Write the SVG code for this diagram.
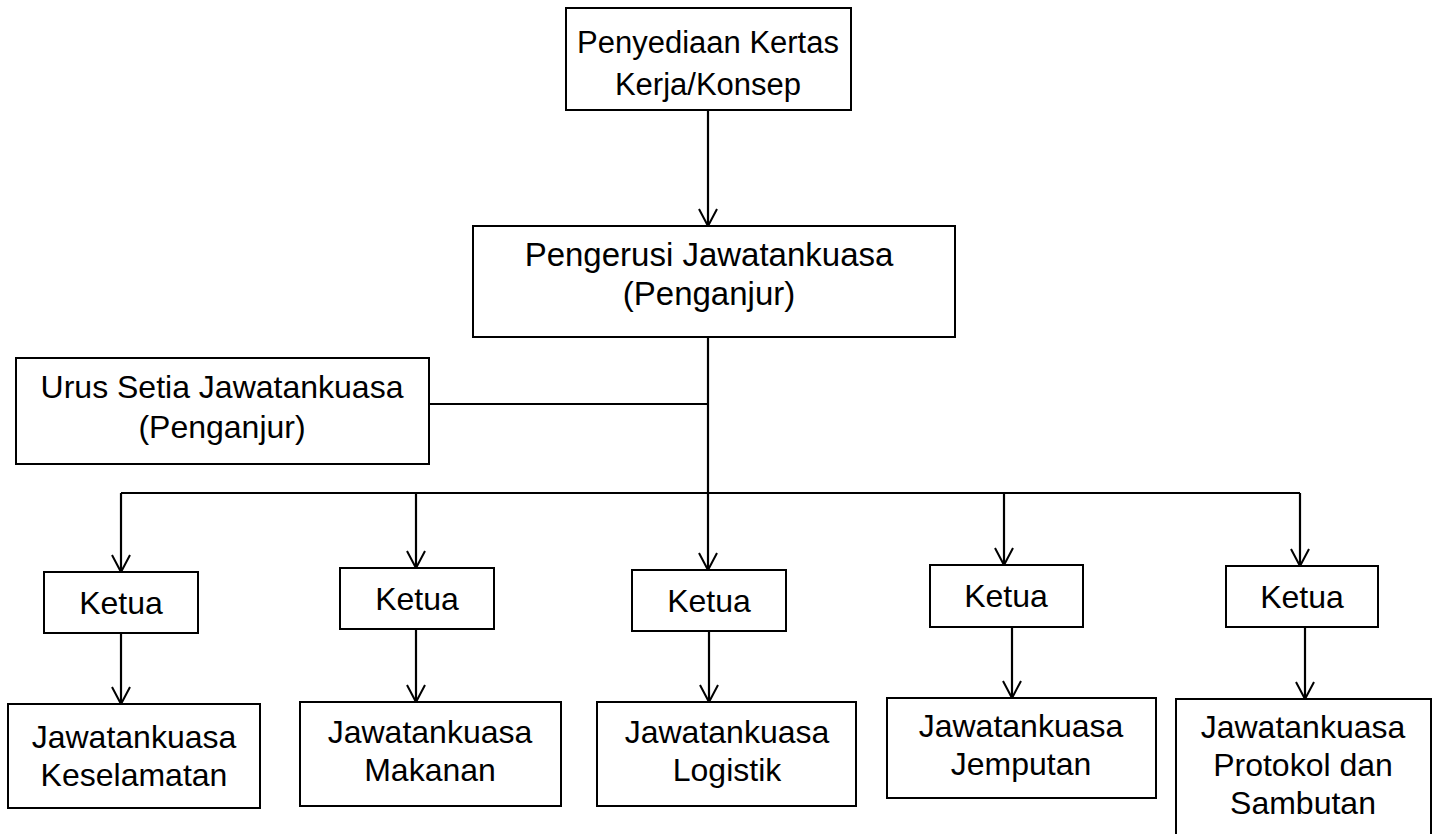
<svg xmlns="http://www.w3.org/2000/svg" width="1439" height="834" viewBox="0 0 1439 834">
<style>
.box{fill:#fff;stroke:#000;stroke-width:2}
.t{font-family:"Liberation Sans",Arial,sans-serif;font-size:32px;fill:#000;text-anchor:middle}
.c{fill:none;stroke:#000;stroke-width:2.2}
</style>
<defs>
<marker id="ah" markerUnits="userSpaceOnUse" markerWidth="22" markerHeight="22" refX="18" refY="10" orient="auto">
<path d="M1,1 L18,10 L1,19" fill="none" stroke="#000" stroke-width="2"/>
</marker>
</defs>
<rect width="1439" height="834" fill="#fff"/>
<g id="connectors">
<line class="c" x1="708" y1="110" x2="708" y2="226" marker-end="url(#ah)"/>
<line class="c" x1="708" y1="337" x2="708" y2="570" marker-end="url(#ah)"/>
<line class="c" x1="429" y1="404" x2="708" y2="404"/>
<line class="c" x1="121" y1="493" x2="1300" y2="493"/>
<line class="c" x1="121" y1="493" x2="121" y2="572" marker-end="url(#ah)"/>
<line class="c" x1="416" y1="493" x2="416" y2="568" marker-end="url(#ah)"/>
<line class="c" x1="1004" y1="493" x2="1004" y2="565" marker-end="url(#ah)"/>
<line class="c" x1="1300" y1="493" x2="1300" y2="566" marker-end="url(#ah)"/>
<line class="c" x1="121" y1="633" x2="121" y2="704" marker-end="url(#ah)"/>
<line class="c" x1="416" y1="629" x2="416" y2="702" marker-end="url(#ah)"/>
<line class="c" x1="709" y1="631" x2="709" y2="702" marker-end="url(#ah)"/>
<line class="c" x1="1012" y1="627" x2="1012" y2="698" marker-end="url(#ah)"/>
<line class="c" x1="1305" y1="627" x2="1305" y2="699" marker-end="url(#ah)"/>
</g>
<g id="n-penyediaan">
<rect class="box" x="566" y="8" width="285" height="102"/>
<text class="t" x="708" y="53" style="font-size:31px">Penyediaan Kertas</text>
<text class="t" x="708" y="95" style="font-size:31px">Kerja/Konsep</text>
</g>
<g id="n-pengerusi">
<rect class="box" x="473" y="226" width="482" height="111"/>
<text class="t" x="709" y="266" style="font-size:33px">Pengerusi Jawatankuasa</text>
<text class="t" x="709" y="305" style="font-size:33px">(Penganjur)</text>
</g>
<g id="n-urussetia">
<rect class="box" x="16" y="358" width="413" height="106"/>
<text class="t" x="222" y="398">Urus Setia Jawatankuasa</text>
<text class="t" x="222" y="438">(Penganjur)</text>
</g>
<g id="n-ketua1">
<rect class="box" x="44" y="572" width="154" height="61"/>
<text class="t" x="121" y="614">Ketua</text>
</g>
<g id="n-ketua2">
<rect class="box" x="340" y="568" width="154" height="61"/>
<text class="t" x="417" y="610">Ketua</text>
</g>
<g id="n-ketua3">
<rect class="box" x="632" y="570" width="154" height="61"/>
<text class="t" x="709" y="612">Ketua</text>
</g>
<g id="n-ketua4">
<rect class="box" x="930" y="565" width="153" height="62"/>
<text class="t" x="1006" y="607">Ketua</text>
</g>
<g id="n-ketua5">
<rect class="box" x="1226" y="566" width="152" height="61"/>
<text class="t" x="1302" y="608">Ketua</text>
</g>
<g id="n-keselamatan">
<rect class="box" x="8" y="704" width="252" height="104"/>
<text class="t" x="134" y="748">Jawatankuasa</text>
<text class="t" x="134" y="786">Keselamatan</text>
</g>
<g id="n-makanan">
<rect class="box" x="300" y="702" width="261" height="104"/>
<text class="t" x="430" y="743">Jawatankuasa</text>
<text class="t" x="430" y="781">Makanan</text>
</g>
<g id="n-logistik">
<rect class="box" x="597" y="702" width="259" height="104"/>
<text class="t" x="727" y="743">Jawatankuasa</text>
<text class="t" x="727" y="781">Logistik</text>
</g>
<g id="n-jemputan">
<rect class="box" x="887" y="698" width="269" height="100"/>
<text class="t" x="1021" y="737">Jawatankuasa</text>
<text class="t" x="1021" y="775">Jemputan</text>
</g>
<g id="n-protokol">
<path class="box" d="M1176,850 L1176,699 L1431,699 L1431,850"/>
<text class="t" x="1303" y="738">Jawatankuasa</text>
<text class="t" x="1303" y="776">Protokol dan</text>
<text class="t" x="1303" y="814">Sambutan</text>
</g>
</svg>
